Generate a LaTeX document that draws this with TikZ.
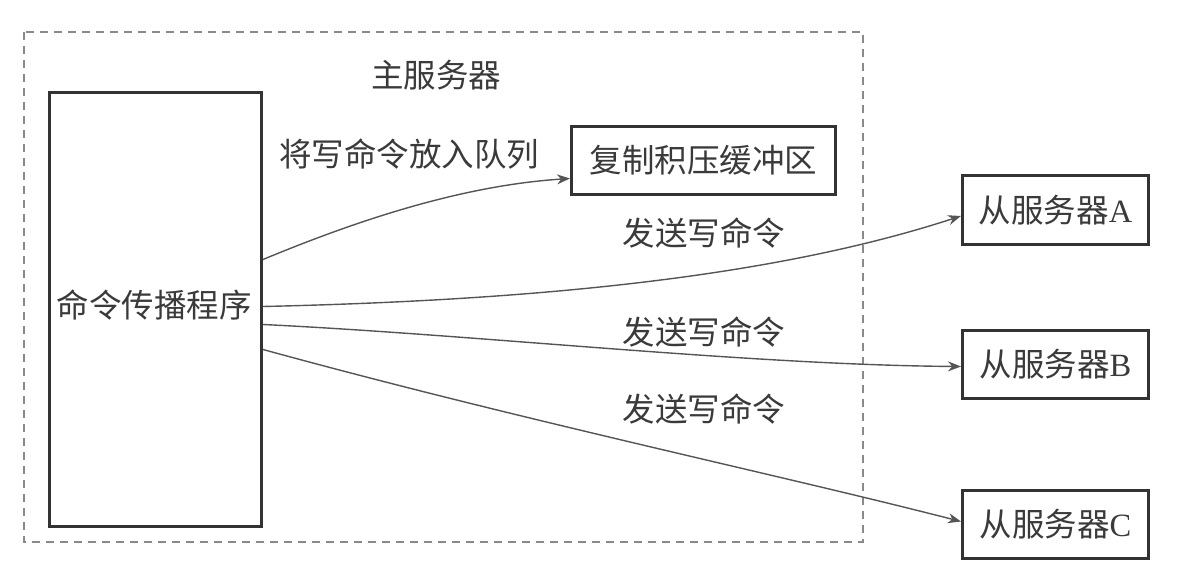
\documentclass[tikz,border=0pt]{standalone}
\usepackage{fontspec}
\setmainfont{Liberation Serif}
\newfontfamily\cjk{Noto Sans CJK SC}
\usetikzlibrary{arrows.meta,calc}
\definecolor{boxcol}{HTML}{333333}
\definecolor{linecol}{HTML}{555555}
\definecolor{dashcol}{HTML}{8A8A8A}
\definecolor{txtcol}{HTML}{3A3A3A}
\begin{document}
\begin{tikzpicture}[x=1pt,y=-1pt,
  every node/.style={text=txtcol,font=\cjk\fontsize{32.5}{36}\selectfont},
  boxnode/.style={draw=boxcol,line width=3pt,inner sep=0pt,anchor=north west},
  lbl/.style={inner sep=0pt},
  conn/.style={draw=linecol,line width=1.4pt,-{Stealth[length=13pt,width=10pt]}}]
\useasboundingbox (0,0) rectangle (1179,575);
% master server dashed frame
\draw[dashcol,line width=1.5pt,dash pattern=on 8pt off 6pt] (24,32) rectangle (863,542);
\node[lbl] (master) at (436,75) {主服务器};
% command propagator
\node[boxnode,minimum width=212pt,minimum height=434pt] (prop) at (48,91) {};
\node[lbl] (proptxt) at (154,305) {命令传播程序};
% backlog buffer
\node[boxnode,minimum width=264pt,minimum height=68pt] (buf) at (570,125) {复制积压缓冲区};
% slaves
\node[boxnode,minimum width=186pt,minimum height=69pt] (sa) at (961,174) {从服务器{\rmfamily A}};
\node[boxnode,minimum width=186pt,minimum height=68pt] (sb) at (961,329) {从服务器{\rmfamily B}};
\node[boxnode,minimum width=186pt,minimum height=68pt] (sc) at (961,489) {从服务器{\rmfamily C}};
% labels
\node[lbl] (l0) at (409,154) {将写命令放入队列};
\node[lbl] (l1) at (704,233) {发送写命令};
\node[lbl] (l2) at (704,332) {发送写命令};
\node[lbl] (l3) at (704,409) {发送写命令};
% connectors
\draw[conn] ([yshift=50pt]prop.east) .. controls (370,215) and (470,185) .. ([yshift=-18pt]buf.west);
\draw[conn] ([yshift=3pt]prop.east) .. controls (550,300) and (780,275) .. ([yshift=-6pt]sa.west);
\draw[conn] ([yshift=-15pt]prop.east) .. controls (480,335) and (750,365) .. ([yshift=-2pt]sb.west);
\draw[conn] ([yshift=-40pt]prop.east) .. controls (520,420) and (780,475) .. ([yshift=3pt]sc.west);
\end{tikzpicture}
\end{document}
